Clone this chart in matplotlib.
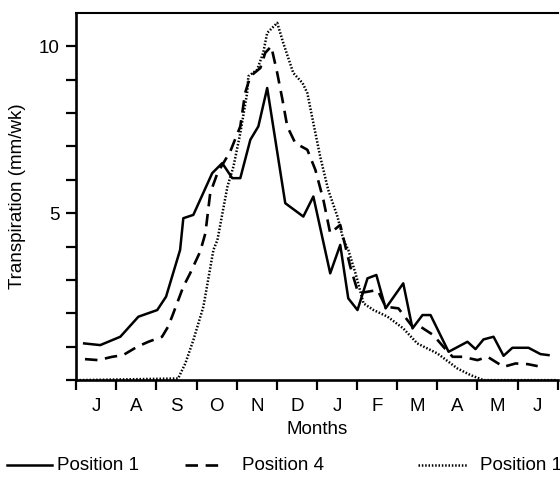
import matplotlib

matplotlib.use("Agg")
import matplotlib.pyplot as plt
from matplotlib.lines import Line2D
import numpy as np

# x positions are in months counted from the start of July
MONTH_LABELS = ["J", "A", "S", "O", "N", "D", "J", "F", "M", "A", "M", "J"]

POS1_X = [0.20, 0.60, 1.10, 1.55, 2.02, 2.24, 2.59, 2.67, 2.92, 3.39, 3.64, 3.89,
          4.09, 4.34, 4.54, 4.76, 5.21, 5.66, 5.91, 6.33, 6.58, 6.78, 7.01, 7.26,
          7.48, 7.71, 8.15, 8.38, 8.63, 8.83, 9.28, 9.75, 9.95, 10.15, 10.40,
          10.65, 10.87, 11.27, 11.57, 11.77]
POS1_Y = [1.10, 1.05, 1.30, 1.90, 2.10, 2.50, 3.90, 4.85, 4.95, 6.20, 6.50, 6.05,
          6.05, 7.20, 7.60, 8.75, 5.30, 4.90, 5.50, 3.20, 4.05, 2.45, 2.10, 3.05,
          3.15, 2.15, 2.90, 1.55, 1.95, 1.95, 0.85, 1.15, 0.93, 1.22, 1.30,
          0.73, 0.97, 0.97, 0.78, 0.75]

POS4_X = [0.22, 0.55, 0.90, 1.17, 1.52, 1.80, 2.14, 2.29, 2.42, 2.67, 2.84, 3.09,
          3.22, 3.34, 3.52, 3.84, 4.09, 4.21, 4.34, 4.59, 4.71, 4.86, 5.01, 5.14,
          5.26, 5.46, 5.76, 5.96, 6.16, 6.33, 6.58, 6.83, 7.03, 7.51, 7.71, 8.03,
          8.38, 8.58, 8.90, 9.15, 9.38, 9.63, 10.00, 10.25, 10.65, 10.95, 11.25,
          11.50]
POS4_Y = [0.63, 0.60, 0.70, 0.75, 1.00, 1.15, 1.30, 1.60, 2.00, 2.80, 3.20, 3.85,
          4.40, 5.60, 6.20, 6.85, 7.60, 8.60, 9.10, 9.35, 9.80, 10.00, 9.20, 8.40,
          7.60, 7.10, 6.90, 6.30, 5.40, 4.40, 4.65, 3.40, 2.60, 2.70, 2.20, 2.15,
          1.60, 1.60, 1.35, 1.00, 0.70, 0.70, 0.60, 0.70, 0.40, 0.50, 0.48,
          0.42]

POS1B_X = [0.00, 2.54, 2.72, 2.92, 3.17, 3.42, 3.52, 3.77, 3.92, 4.09, 4.26, 4.29,
           4.51, 4.66, 4.76, 5.01, 5.16, 5.41, 5.64, 5.76, 5.91, 6.08, 6.28, 6.51,
           6.66, 6.78, 6.96, 7.16, 7.41, 7.76, 8.15, 8.50, 9.00, 9.50, 9.83,
           10.15, 12.00]
POS1B_Y = [0.00, 0.05, 0.50, 1.20, 2.20, 3.90, 4.20, 5.80, 6.40, 7.40, 8.60, 9.10,
           9.30, 9.80, 10.40, 10.70, 10.10, 9.20, 8.90, 8.60, 7.70, 6.70, 5.70, 4.90,
           4.20, 3.90, 3.20, 2.30, 2.10, 1.90, 1.55, 1.10, 0.80, 0.35, 0.15,
           0.00, 0.00]

FS = 13.5

plt.rcParams.update(
    {
        "font.family": ["Liberation Sans", "DejaVu Sans"],
        "font.size": FS,
        "lines.scale_dashes": False,
    }
)

SOLID = dict(color="black", linewidth=1.8, linestyle="-")
DASHED = dict(color="black", linewidth=1.9, dashes=(9, 5.5))
DOTTED = dict(color="black", linewidth=1.8, dashes=(1.1, 1.3))

fig = plt.figure(figsize=(5.6, 4.95), dpi=100)
ax = fig.add_axes([0.136, 0.232, 0.860, 0.742])

ax.plot(POS1_X, POS1_Y, **SOLID)
ax.plot(POS4_X, POS4_Y, **DASHED)
ax.plot(POS1B_X, POS1B_Y, **DOTTED)

ax.set_xlim(0, 12)
ax.set_ylim(0, 11)

ax.set_xticks(np.arange(0, 13))
ax.set_xticklabels([])
ax.set_xticks(np.arange(12) + 0.5, minor=True)
ax.set_xticklabels(MONTH_LABELS, minor=True)
ax.tick_params(axis="x", which="major", direction="out", length=7, width=1.6)
ax.tick_params(axis="x", which="minor", length=0, pad=13, labelsize=FS)

ax.set_yticks(np.arange(0, 11))
ax.set_yticklabels(["" if v not in (5, 10) else str(v) for v in range(11)])
ax.tick_params(axis="y", which="major", direction="out", length=7, width=1.6,
               labelsize=FS, pad=5)

ax.spines["right"].set_visible(False)
ax.spines["left"].set_linewidth(1.9)
ax.spines["bottom"].set_linewidth(1.9)
ax.spines["top"].set_linewidth(1.5)

ax.set_xlabel("Months", fontsize=FS, labelpad=4)
ax.set_ylabel("Transpiration (mm/wk)", fontsize=FS, labelpad=9)

# legend row below the axes
leg_y = 1 - 465 / 495
fig.add_artist(Line2D([7 / 560, 52 / 560], [leg_y, leg_y], transform=fig.transFigure, **SOLID))
fig.text(57 / 560, leg_y, "Position 1", ha="left", va="center", fontsize=FS)
fig.add_artist(Line2D([185 / 560, 223 / 560], [leg_y, leg_y], transform=fig.transFigure, **DASHED))
fig.text(242 / 560, leg_y, "Position 4", ha="left", va="center", fontsize=FS)
fig.add_artist(Line2D([418 / 560, 467 / 560], [leg_y, leg_y], transform=fig.transFigure, **DOTTED))
fig.text(480 / 560, leg_y, "Position 1", ha="left", va="center", fontsize=FS)

fig.savefig("out.png", dpi=100)
